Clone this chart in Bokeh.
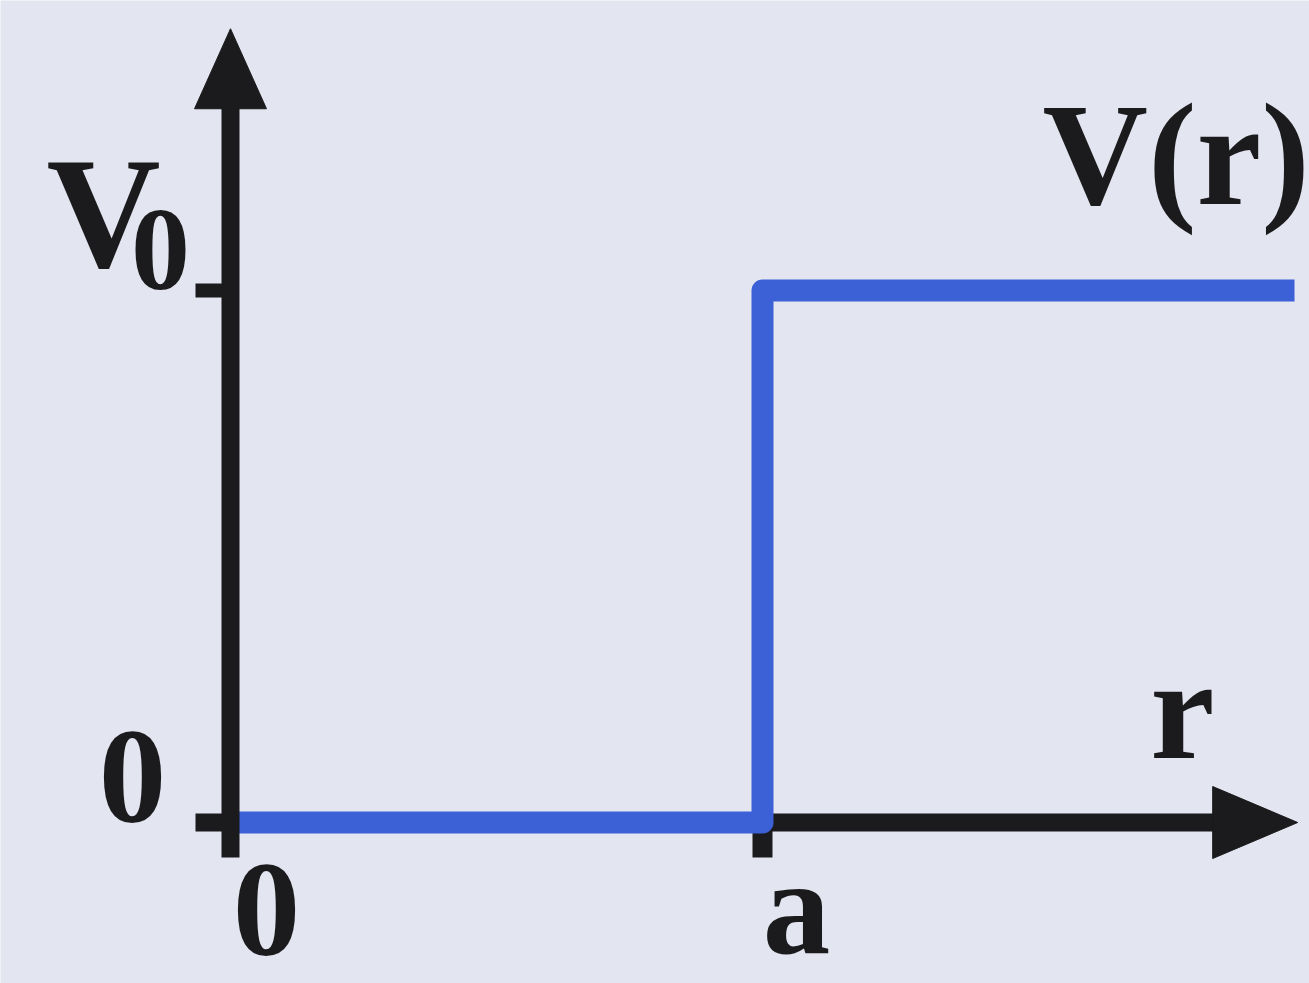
from bokeh.plotting import figure
from bokeh.models import Range1d
from bokeh.core.properties import value
from bokeh.embed import file_html
from bokeh.resources import INLINE

# Step potential V(r): zero inside r < a, V0 outside
r_step = [0.0, 1.0, 1.0, 2.0]
v_step = [0.0, 0.0, 1.0, 1.0]
r_ticks = [0.0, 1.0]
r_tick_labels = ["0", "a"]
v_ticks = [0.0, 1.0]
v_tick_labels = ["0", "V"]
v0_subscript = "0"
x_title = "r"
y_title = "V(r)"

W, H = 1309, 983
PX = 1.0 / 532.0          # data units per screen pixel (a = V0 = 532 px)
X0, Y0 = 230, 822         # screen position of the origin

BG = "#e3e5f0"
INK = "#1b1b1d"
BLUE = "#3c61d6"
FONT = value("Liberation Serif")


def lift(size):
    # raise the alphabetic baseline so glyph bottoms land where intended
    return 0.34 * size * PX


p = figure(width=W, height=H, output_backend="svg", toolbar_location=None,
           x_range=Range1d(-X0 * PX, (W - X0) * PX),
           y_range=Range1d(-(H - Y0) * PX, Y0 * PX),
           min_border=0)
p.axis.visible = False
p.grid.visible = False
p.outline_line_color = None
p.background_fill_color = BG
p.border_fill_color = BG

# horizontal axis with arrow head
x_start = -35 * PX
x_tip = 2.006
head_len = 85 * PX
head_half = 36 * PX
p.segment(x0=[x_start], y0=[0], x1=[x_tip - head_len + 4 * PX], y1=[0],
          line_color=INK, line_width=18)
p.patch(x=[x_tip - head_len, x_tip, x_tip - head_len],
        y=[head_half, 0, -head_half], fill_color=INK, line_color=INK, line_width=1)

# tick at r = a (below the axis)
p.segment(x0=[r_ticks[1]], y0=[0], x1=[r_ticks[1]], y1=[-35 * PX],
          line_color=INK, line_width=20)

# the potential curve
p.line(r_step, v_step, line_color=BLUE, line_width=22, line_join="round")

# vertical axis with arrow head
y_tip = 1.492
vhead_len = 80 * PX
p.segment(x0=[0], y0=[-35 * PX], x1=[0], y1=[y_tip - vhead_len + 4 * PX],
          line_color=INK, line_width=18)
p.patch(x=[-head_half, 0, head_half],
        y=[y_tip - vhead_len, y_tip, y_tip - vhead_len],
        fill_color=INK, line_color=INK, line_width=1)

# tick at V = V0
p.segment(x0=[-35 * PX], y0=[v_ticks[1]], x1=[0], y1=[v_ticks[1]],
          line_color=INK, line_width=14)

# tick labels on the r axis
p.text(x=[r_ticks[0] + 36 * PX, r_ticks[1] + 34 * PX],
       y=[-134 * PX + lift(135), -131 * PX + lift(135)],
       text=r_tick_labels, text_font=FONT, text_font_style="bold",
       text_font_size="135px", text_color=INK,
       text_align="center", text_baseline="alphabetic")

# tick labels on the V axis
p.text(x=[-98 * PX], y=[v_ticks[0] - 1 * PX + lift(135)], text=[v_tick_labels[0]],
       text_font=FONT, text_font_style="bold", text_font_size="135px",
       text_color=INK, text_align="center", text_baseline="alphabetic")
p.text(x=[-127 * PX], y=[v_ticks[1] + 23 * PX + lift(158)], text=[v_tick_labels[1]],
       text_font=FONT, text_font_style="bold", text_font_size="158px",
       text_color=INK, text_align="center", text_baseline="alphabetic")
p.text(x=[-70 * PX], y=[v_ticks[1] + lift(118)], text=[v0_subscript],
       text_font=FONT, text_font_style="bold", text_font_size="118px",
       text_color=INK, text_align="center", text_baseline="alphabetic")

# axis titles
p.text(x=[(1182 - X0) * PX], y=[(Y0 - 758) * PX + lift(145)], text=[x_title],
       text_font=FONT, text_font_style="bold", text_font_size="145px",
       text_color=INK, text_align="center", text_baseline="alphabetic")
p.text(x=[(1042 - X0) * PX], y=[(Y0 - 204) * PX + lift(146)], text=[y_title],
       text_font=FONT, text_font_style="bold", text_font_size="146px",
       text_color=INK, text_align="left", text_baseline="alphabetic")

open("out.html", "w").write(file_html(p, INLINE))
